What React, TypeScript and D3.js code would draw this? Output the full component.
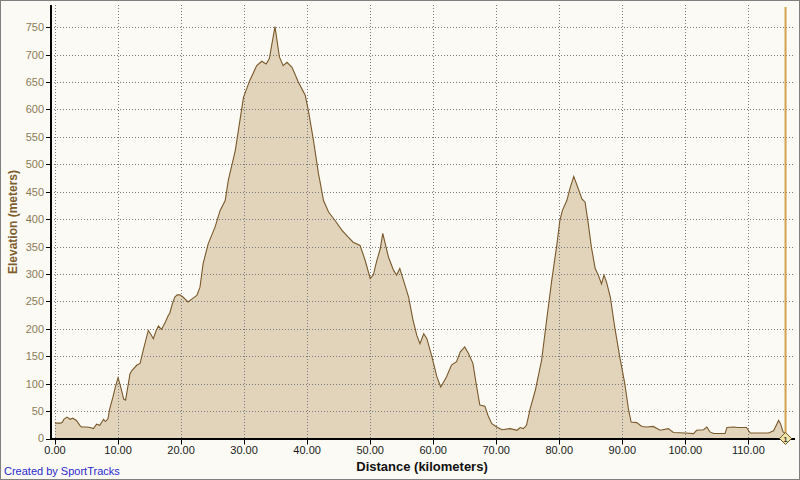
import React from "react";
import * as d3 from "d3";

const distKm: number[] = [
  0.0, 0.9, 1.2, 1.4, 1.9, 2.4, 2.8, 3.4, 4.0, 4.2, 5.0, 5.6, 6.1, 6.6, 7.1, 7.7, 8.0, 8.4, 8.7, 9.2,
  9.6, 10.0, 10.4, 10.9, 11.2, 11.9, 12.2, 13.0, 13.5, 14.0, 14.8, 15.2, 15.6, 16.0, 16.4, 16.9, 17.5, 18.0, 18.2, 18.6,
  19.0, 19.4, 19.8, 20.3, 21.1, 21.8, 22.5, 23.0, 23.5, 24.3, 25.4, 26.2, 27.0, 27.5, 28.6, 29.9, 30.9, 32.0, 32.8, 33.5,
  34.0, 34.9, 35.6, 36.2, 36.8, 37.6, 38.6, 39.7, 40.2, 41.0, 41.8, 42.0, 42.6, 43.4, 44.4, 45.5, 46.3, 47.3, 48.4, 49.2,
  50.0, 50.5, 51.0, 51.6, 52.0, 52.4, 52.9, 53.7, 54.2, 54.7, 55.3, 56.1, 56.8, 57.4, 57.9, 58.5, 59.0, 59.8, 60.6, 61.2,
  62.1, 62.9, 63.7, 64.3, 65.0, 65.6, 66.3, 66.9, 67.4, 68.2, 68.7, 69.3, 70.1, 70.9, 72.2, 73.3, 73.8, 74.3, 74.8, 75.4,
  76.2, 77.2, 78.0, 78.8, 79.6, 80.1, 80.5, 81.2, 81.7, 82.3, 83.0, 83.6, 84.1, 84.6, 85.1, 85.7, 86.2, 86.7, 87.1, 87.5,
  88.1, 88.8, 89.6, 90.4, 91.0, 91.4, 92.3, 93.1, 93.9, 94.9, 96.0, 97.3, 98.1, 100.0, 101.3, 101.8, 102.9, 103.4, 103.9, 104.5,
  106.3, 106.6, 107.6, 108.4, 109.7, 110.3, 111.6, 113.2, 114.0, 114.8, 115.1, 115.5, 115.8,
];

const elevM: number[] = [
  28, 28, 30, 35, 39, 35, 37, 33, 23, 21, 21, 20, 18, 26, 24, 35, 31, 36, 55, 76,
  95, 111, 95, 72, 70, 118, 124, 134, 137, 161, 197, 190, 182, 195, 205, 199, 212, 225, 228, 245,
  258, 262, 262, 258, 249, 255, 261, 276, 319, 355, 386, 416, 434, 471, 525, 622, 653, 680, 688, 683,
  693, 751, 696, 680, 686, 677, 650, 626, 598, 544, 483, 471, 434, 413, 398, 380, 370, 358, 352, 325,
  292, 298, 322, 346, 374, 355, 331, 307, 298, 310, 288, 258, 216, 188, 173, 191, 182, 149, 112, 94,
  112, 134, 140, 158, 167, 155, 137, 94, 61, 59, 42, 27, 21, 16, 18, 15, 20, 18, 24, 55,
  88, 143, 216, 288, 352, 398, 416, 434, 456, 478, 456, 437, 431, 392, 349, 310, 298, 282, 298, 285,
  258, 203, 149, 100, 52, 30, 29, 22, 21, 22, 15, 18, 11, 10, 9, 15, 16, 21, 12, 9,
  9, 20, 21, 20, 20, 10, 10, 10, 14, 33, 27, 12, 10,
];

const xTicks: number[] = [0, 10, 20, 30, 40, 50, 60, 70, 80, 90, 100, 110];
const yTicks: number[] = [0, 50, 100, 150, 200, 250, 300, 350, 400, 450, 500, 550, 600, 650, 700, 750];
const markerKm = 115.9;

const xTitle = "Distance (kilometers)";
const yTitle = "Elevation (meters)";
const credit = "Created by SportTracks";

export default function App() {
  const W = 800;
  const H = 480;
  const left = 51;
  const right = 795;
  const top = 5;
  const bottom = 438.5;

  const x = d3.scaleLinear().domain([-0.635, 117.4]).range([left, right]);
  const y = d3.scaleLinear().domain([0, 790]).range([bottom, top + 0.3]);

  const data = distKm.map((d, i) => ({ d, e: elevM[i] }));
  const area = d3
    .area<{ d: number; e: number }>()
    .x((p) => x(p.d))
    .y0(y(0))
    .y1((p) => y(p.e));
  const line = d3
    .line<{ d: number; e: number }>()
    .x((p) => x(p.d))
    .y((p) => y(p.e));

  const font = "'Liberation Sans', Arial, sans-serif";
  const mx = x(markerKm);

  return (
    <svg
      width={W}
      height={H}
      style={{ position: "fixed", left: 0, top: 0, display: "block" }}
      fontFamily={font}
    >
      <rect x={0} y={0} width={W} height={H} fill="#FBFAF5" />
      <rect x={0.5} y={0.5} width={W - 1} height={H - 1} fill="none" stroke="#808080" strokeWidth={1} />

      <path d={area(data) || ""} fill="#E2D3BB" />

      {/* grid */}
      {yTicks
        .filter((t) => t > 0)
        .map((t) => (
          <line
            key={"gy" + t}
            x1={left}
            x2={right}
            y1={Math.round(y(t)) + 0.5}
            y2={Math.round(y(t)) + 0.5}
            stroke="#7a7a7a"
            strokeWidth={1}
            strokeDasharray="1,2"
          />
        ))}
      {xTicks.map((t) => (
        <line
          key={"gx" + t}
          x1={Math.round(x(t)) + 0.5}
          x2={Math.round(x(t)) + 0.5}
          y1={top}
          y2={bottom}
          stroke="#7a7a7a"
          strokeWidth={1}
          strokeDasharray="1,2"
        />
      ))}

      <path d={line(data) || ""} fill="none" stroke="#7A5A2C" strokeWidth={1.1} />

      {/* marker */}
      <line x1={mx} x2={mx} y1={top + 2} y2={bottom} stroke="#D2A24E" strokeWidth={2} />

      {/* axes */}
      <line x1={left} x2={left} y1={top} y2={bottom + 1} stroke="#000" strokeWidth={2} />
      <line x1={left - 1} x2={right} y1={bottom + 0.5} y2={bottom + 0.5} stroke="#000" strokeWidth={2} />

      {yTicks.map((t) => (
        <g key={"ty" + t}>
          <line x1={left - 5} x2={left} y1={Math.round(y(t)) + 0.5} y2={Math.round(y(t)) + 0.5} stroke="#000" />
          <text
            x={44}
            y={y(t)}
            dy="0.36em"
            textAnchor="end"
            fontSize={11}
            fill="#8C7A55"
          >
            {t}
          </text>
        </g>
      ))}
      {xTicks.map((t) => (
        <g key={"tx" + t}>
          <line x1={Math.round(x(t)) + 0.5} x2={Math.round(x(t)) + 0.5} y1={bottom} y2={bottom + 6} stroke="#000" />
          <text x={x(t)} y={454} textAnchor="middle" fontSize={11} fill="#1a1a1a">
            {t.toFixed(2)}
          </text>
        </g>
      ))}

      {/* diamond marker */}
      <g transform={`translate(${mx},${bottom})`}>
        <path d="M0,-6 L6,0 L0,6 L-6,0 Z" fill="#F3E4A8" stroke="#6B5A2A" strokeWidth={1} />
        <text x={0} y={3} textAnchor="middle" fontSize={7} fontWeight="bold" fill="#333">
          1
        </text>
      </g>

      <text x={422} y={471} textAnchor="middle" fontSize={13} fontWeight="bold" fill="#111">
        {xTitle}
      </text>
      <text
        transform={`translate(17,222) rotate(-90)`}
        textAnchor="middle"
        fontSize={12}
        fontWeight="bold"
        fill="#7E5E2E"
      >
        {yTitle}
      </text>
      <text x={4} y={475} fontSize={11} fill="#2A2ACC">
        {credit}
      </text>
    </svg>
  );
}
